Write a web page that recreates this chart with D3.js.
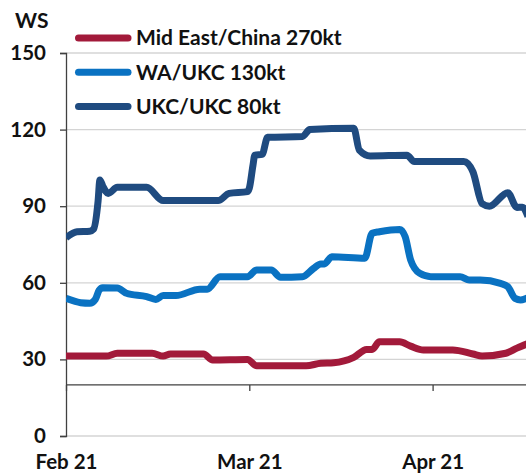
<!DOCTYPE html>
<html>
<head>
<meta charset="utf-8">
<script src="https://cdn.jsdelivr.net/npm/d3@7"></script>
<style>
  body { margin: 0; background: #fff; }
  svg { display: block; font-family: Lato, "Open Sans", sans-serif; font-weight: bold; }
</style>
</head>
<body>
<script>
// x values are months since 1 Feb 21 (monthly axis, equal month widths)
const seriesNames = ["Mid East/China 270kt", "WA/UKC 130kt", "UKC/UKC 80kt"];
const seriesColors = ["#a21a3a", "#0a72c2", "#1f4b80"];

const midEastX = [0, 0.22, 0.28, 0.47, 0.53, 0.57, 0.75, 0.80, 0.99, 1.04, 1.31, 1.39, 1.46, 1.57, 1.64, 1.67, 1.71, 1.82, 1.88, 1.95, 2.11, 2.22, 2.27, 2.40, 2.46, 2.52];
const midEastY = [31.3, 31.3, 32.4, 32.4, 31.3, 32.1, 32.1, 29.8, 30, 27.5, 27.5, 28.5, 28.7, 30.8, 33.9, 33.9, 36.9, 36.9, 35.2, 33.7, 33.7, 32.1, 31.3, 32.4, 34.4, 36.2];

const waX = [0, 0.08, 0.13, 0.16, 0.18, 0.20, 0.28, 0.33, 0.44, 0.49, 0.53, 0.60, 0.73, 0.77, 0.84, 0.99, 1.04, 1.12, 1.17, 1.29, 1.35, 1.39, 1.41, 1.45, 1.63, 1.67, 1.71, 1.82, 1.85, 1.88, 1.93, 1.99, 2.15, 2.20, 2.26, 2.37, 2.41, 2.45, 2.48, 2.52];
const waY = [53.9, 52.2, 52, 53.5, 57, 58.1, 58, 55.9, 54.6, 53.5, 55, 55, 57.5, 57.5, 62.4, 62.4, 65, 65, 62.2, 62.4, 65.6, 67.4, 67.4, 70.2, 69.6, 79.4, 80, 80.9, 78.1, 69, 63.7, 62.4, 62.4, 61.1, 61.1, 59.8, 58.5, 53.9, 53.3, 54.2];

const ukcX = [0, 0.06, 0.13, 0.15, 0.175, 0.185, 0.20, 0.23, 0.28, 0.44, 0.53, 0.83, 0.89, 0.99, 1.00, 1.02, 1.03, 1.07, 1.10, 1.29, 1.33, 1.57, 1.60, 1.66, 1.86, 1.90, 2.17, 2.22, 2.27, 2.31, 2.41, 2.46, 2.49, 2.52];
const ukcY = [77.6, 80, 80.2, 81, 92, 100.3, 98, 95, 97.4, 97.4, 92.2, 92.2, 95, 95.7, 97, 106, 110, 110.3, 117, 117.3, 120, 120.5, 112, 109.7, 110, 107.5, 107.5, 103.5, 91, 90, 95.3, 89.5, 89.6, 86];

const yTicks = [0, 30, 60, 90, 120, 150];
const gridValues = [0, 30, 60, 90, 120, 150];
const monthLabels = ["Feb 21", "Mar 21", "Apr 21"];
const xAxisCross = 20;

const width = 526, height = 476;
const plotLeft = 66, plotTop = 53, plotBottom = 436;

const svg = d3.select("body").append("svg")
  .attr("width", width)
  .attr("height", height);

const x = d3.scaleLinear().domain([0, 1]).range([plotLeft, plotLeft + 183.3]);
const y = d3.scaleLinear().domain([0, 150]).range([plotBottom, plotTop]);

// gridlines
svg.append("g")
  .selectAll("line")
  .data(gridValues)
  .join("line")
  .attr("x1", plotLeft).attr("x2", width)
  .attr("y1", d => y(d)).attr("y2", d => y(d))
  .attr("stroke", "#d4d4d4")
  .attr("stroke-width", 1.3);

// y axis
const yAxis = svg.append("g")
  .attr("transform", `translate(${plotLeft},0)`)
  .call(d3.axisLeft(y).tickValues(yTicks).tickSize(6).tickPadding(14));
yAxis.select(".domain").attr("stroke", "#404040").attr("stroke-width", 1.3);
yAxis.selectAll(".tick line").attr("stroke", "#404040").attr("stroke-width", 1.3);
yAxis.selectAll("text")
  .attr("font-size", 20.5)
  .attr("font-family", "Lato, sans-serif")
  .attr("font-weight", "bold")
  .attr("fill", "#111");

// x axis, crossing the y axis at 20
const xAxis = svg.append("g")
  .attr("transform", `translate(0,${y(xAxisCross)})`)
  .call(d3.axisBottom(x).tickValues(d3.range(monthLabels.length))
    .tickFormat(i => monthLabels[i]).tickSize(6).tickSizeOuter(0));
xAxis.select(".domain").attr("stroke", "#404040").attr("stroke-width", 1.3)
  .attr("d", `M${plotLeft},0H${width}`);
xAxis.selectAll(".tick line").attr("stroke", "#404040").attr("stroke-width", 1.3);
// labels sit below the plot, not under the crossing line
xAxis.selectAll("text")
  .attr("y", plotBottom - y(xAxisCross) + 33)
  .attr("dy", 0)
  .attr("font-size", 20.5)
  .attr("font-family", "Lato, sans-serif")
  .attr("font-weight", "bold")
  .attr("fill", "#111");

// series lines
const series = [
  { xs: midEastX, ys: midEastY },
  { xs: waX, ys: waY },
  { xs: ukcX, ys: ukcY }
];

const line = d3.line()
  .x(d => x(d[0]))
  .y(d => y(d[1]))
  .curve(d3.curveMonotoneX);

svg.append("clipPath").attr("id", "plot")
  .append("rect").attr("x", plotLeft).attr("y", 0).attr("width", width - plotLeft).attr("height", plotBottom);

svg.append("g")
  .attr("clip-path", "url(#plot)")
  .selectAll("path")
  .data(series)
  .join("path")
  .attr("d", s => line(s.xs.map((v, i) => [v, s.ys[i]])))
  .attr("fill", "none")
  .attr("stroke", (s, i) => seriesColors[i])
  .attr("stroke-width", 7)
  .attr("stroke-linejoin", "round");

// axis title
svg.append("text")
  .attr("x", 15).attr("y", 27.5)
  .attr("font-size", 21)
  .attr("fill", "#111")
  .text("WS");

// legend
const legend = svg.append("g")
  .selectAll("g")
  .data(seriesNames)
  .join("g")
  .attr("transform", (d, i) => `translate(0,${38 + i * 34.2})`);
legend.append("line")
  .attr("x1", 78.5).attr("x2", 128)
  .attr("stroke", (d, i) => seriesColors[i])
  .attr("stroke-width", 7)
  .attr("stroke-linecap", "round");
legend.append("text")
  .attr("x", 136).attr("dy", "0.35em")
  .attr("font-size", 21)
  .attr("fill", "#111")
  .text(d => d);
</script>
</body>
</html>
